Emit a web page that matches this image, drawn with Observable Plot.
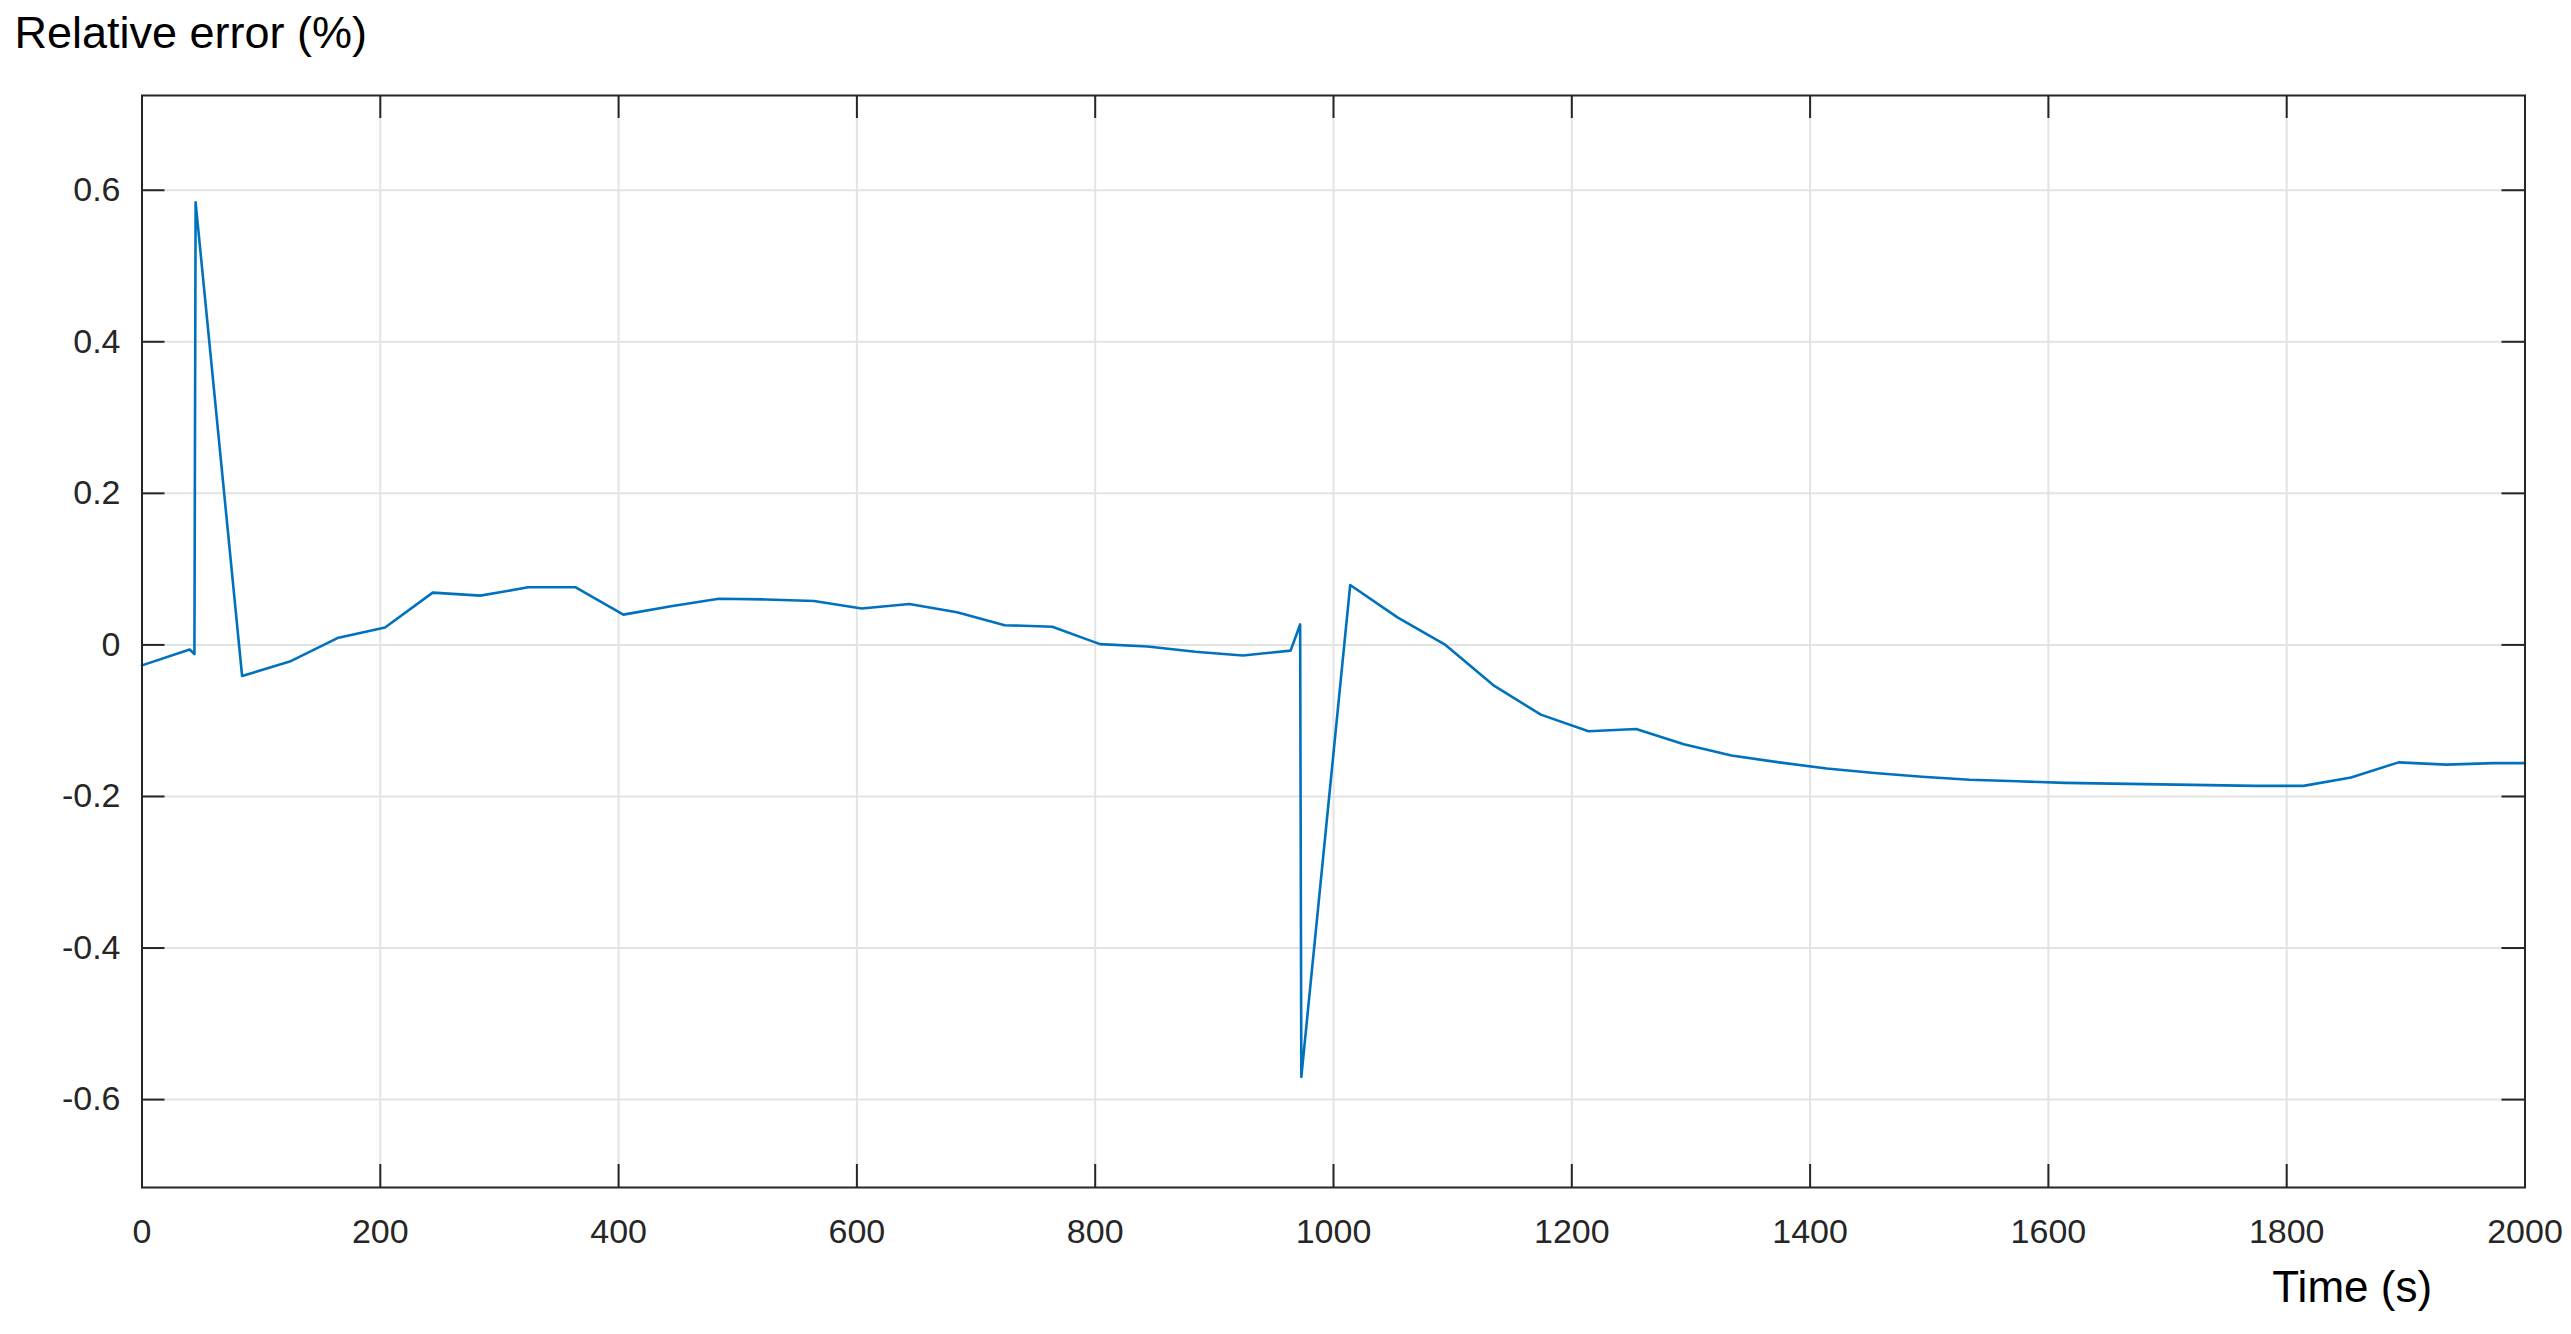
<!DOCTYPE html>
<html>
<head>
<meta charset="utf-8">
<script src="https://cdn.jsdelivr.net/npm/d3@7"></script>
<script src="https://cdn.jsdelivr.net/npm/@observablehq/plot@0.6"></script>
<style>
  html, body { margin: 0; padding: 0; background: #ffffff; }
  svg { display: block; }
</style>
</head>
<body>
<div id="chart"></div>
<script>
// ---- data ----
const time = [0, 40, 44, 45, 84, 124, 164, 204, 244, 284, 324, 364, 404, 444, 484, 524, 564, 604, 644, 684,
  724, 764, 804, 844, 884, 924, 964, 972, 973, 1014, 1054, 1094, 1134, 1174, 1214, 1254, 1294, 1334,
  1374, 1414, 1454, 1494, 1534, 1574, 1614, 1654, 1694, 1734, 1774, 1814, 1854, 1894, 1934, 1974, 2000];
const relativeError = [-0.027, -0.006, -0.012, 0.584, -0.041, -0.022, 0.009, 0.023, 0.069, 0.065, 0.076, 0.076,
  0.040, 0.051, 0.061, 0.060, 0.058, 0.048, 0.054, 0.043, 0.026, 0.024, 0.001, -0.002, -0.009, -0.014,
  -0.0075, 0.027, -0.570, 0.079, 0.036, 0.0, -0.053, -0.092, -0.114, -0.111, -0.131, -0.146, -0.155,
  -0.163, -0.169, -0.174, -0.178, -0.180, -0.182, -0.183, -0.184, -0.185, -0.186, -0.186, -0.175,
  -0.155, -0.158, -0.156, -0.156];
const xTicks = [0, 200, 400, 600, 800, 1000, 1200, 1400, 1600, 1800, 2000];
const yTicks = [-0.6, -0.4, -0.2, 0, 0.2, 0.4, 0.6];
const yTickLabels = ["-0.6", "-0.4", "-0.2", "0", "0.2", "0.4", "0.6"];
const yTitle = "Relative error (%)";
const xTitle = "Time (s)";

const series = time.map((t, i) => ({t, v: relativeError[i]}));

// ---- layout ----
const W = 2571, H = 1334;
const mL = 141.5, mR = 46.5, mT = 95, mB = 147;
const plotW = W - mL - mR, plotH = H - mT - mB;
const tickLen = 23;
const axisColor = "#262626";
const gridColor = "#e3e3e3";
const font = "'Liberation Sans', Arial, Helvetica, sans-serif";

const chart = Plot.plot({
  width: W,
  height: H,
  marginLeft: mL,
  marginRight: mR,
  marginTop: mT,
  marginBottom: mB,
  style: {fontFamily: font, background: "#ffffff", overflow: "visible"},
  x: {domain: [0, 2000], axis: null},
  y: {domain: [-0.716, 0.725], axis: null},
  marks: [
    Plot.ruleX(xTicks, {x: d => d, stroke: gridColor, strokeWidth: 2}),
    Plot.ruleY(yTicks, {y: d => d, stroke: gridColor, strokeWidth: 2}),
    Plot.line(series, {x: "t", y: "v", stroke: "#0072BD", strokeWidth: 2.6}),
    // inner ticks on all four sides
    Plot.tickX(xTicks, {x: d => d, insetTop: plotH - tickLen, stroke: axisColor, strokeWidth: 2}),
    Plot.tickX(xTicks, {x: d => d, insetBottom: plotH - tickLen, stroke: axisColor, strokeWidth: 2}),
    Plot.tickY(yTicks, {y: d => d, insetRight: plotW - tickLen, stroke: axisColor, strokeWidth: 2}),
    Plot.tickY(yTicks, {y: d => d, insetLeft: plotW - tickLen, stroke: axisColor, strokeWidth: 2}),
    Plot.frame({stroke: axisColor, strokeWidth: 2}),
    // tick labels
    Plot.text(xTicks, {x: d => d, text: d => String(d), frameAnchor: "bottom", lineAnchor: "bottom",
      dy: 55, fontSize: 34, fill: axisColor, textAnchor: "middle"}),
    Plot.text(yTicks, {y: d => d, text: (d, i) => yTickLabels[i], frameAnchor: "left", lineAnchor: "middle",
      dx: -21.5, fontSize: 34, fill: axisColor, textAnchor: "end"}),
    // titles
    Plot.text([yTitle], {text: d => d, frameAnchor: "top-left", textAnchor: "start", lineAnchor: "bottom",
      dx: 14 - mL, dy: 47 - mT, fontSize: 45, fill: "#000000"}),
    Plot.text([xTitle], {text: d => d, frameAnchor: "bottom-right", textAnchor: "middle", lineAnchor: "bottom",
      dx: 2351.7 - (W - mR), dy: 1301.7 - (H - mB), fontSize: 44, fill: "#000000"})
  ]
});
document.getElementById("chart").appendChild(chart);
</script>
</body>
</html>
